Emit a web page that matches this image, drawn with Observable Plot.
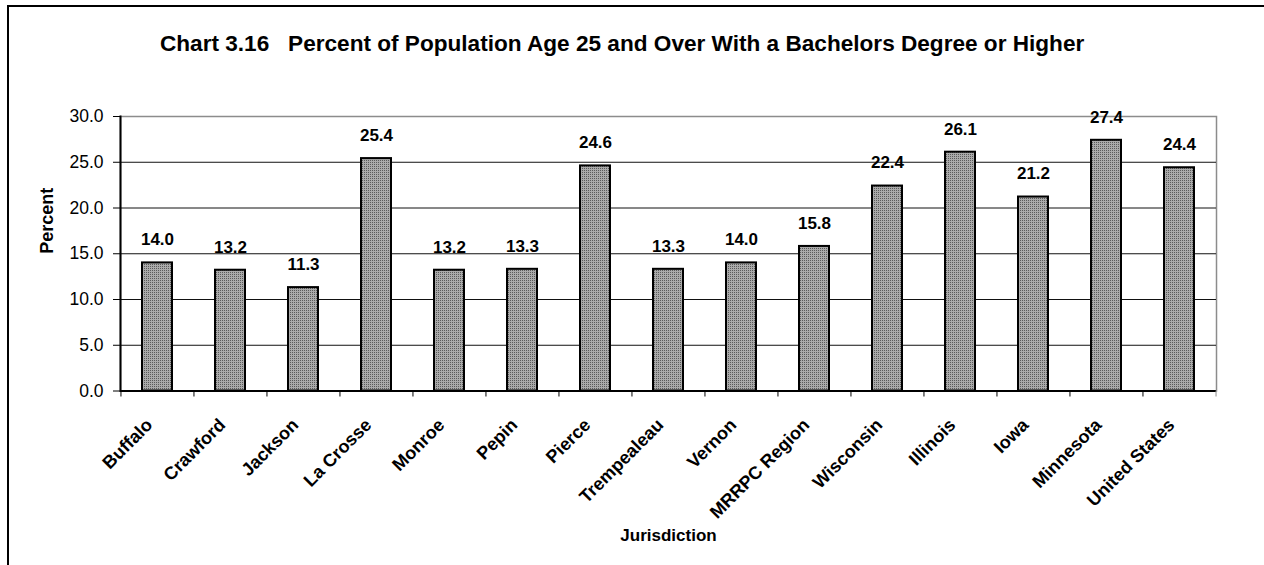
<!DOCTYPE html>
<html>
<head>
<meta charset="utf-8">
<script src="https://cdn.jsdelivr.net/npm/d3@7"></script>
<script src="https://cdn.jsdelivr.net/npm/@observablehq/plot@0.6"></script>
<style>
  body { margin: 0; background: #fff; font-family: "Liberation Sans", Arial, sans-serif; }
  #frame { position: absolute; left: 7px; top: 5px; width: 1400px; height: 700px; border-left: 2px solid #000; border-top: 2px solid #000; }
  #title { position: absolute; left: 160px; top: 31px; font: bold 22.6px "Liberation Sans", Arial, sans-serif; white-space: pre; color: #000; }
  #chart { position: absolute; left: 0; top: 100px; }
</style>
</head>
<body>
<div id="frame"></div>
<div id="title">Chart 3.16   Percent of Population Age 25 and Over With a Bachelors Degree or Higher</div>
<div id="chart"></div>
<script>
const categories = ["Buffalo", "Crawford", "Jackson", "La Crosse", "Monroe", "Pepin", "Pierce", "Trempealeau", "Vernon", "MRRPC Region", "Wisconsin", "Illinois", "Iowa", "Minnesota", "United States"];
const values = [14.0, 13.2, 11.3, 25.4, 13.2, 13.3, 24.6, 13.3, 14.0, 15.8, 22.4, 26.1, 21.2, 27.4, 24.4];
const yTicks = [0, 5, 10, 15, 20, 25, 30];
const gridTicks = [5, 10, 15, 20, 25];
const xLabel = "Jurisdiction";
const yLabel = "Percent";

const data = categories.map((c, i) => ({category: c, value: values[i]}));

const width = 1264, height = 465;
const marginLeft = 120, marginRight = 48, marginTop = 16, marginBottom = 174.5;
const step = (width - marginLeft - marginRight) / categories.length;

const svg = Plot.plot({
  width, height, marginLeft, marginRight, marginTop, marginBottom,
  style: {fontFamily: "'Liberation Sans', Arial, sans-serif", color: "#000", background: "transparent"},
  x: {domain: categories, paddingInner: 0.59, paddingOuter: 0.295, label: null},
  y: {domain: [0, 30], label: null},
  marks: [
    Plot.frame({stroke: "#8c8c8c", strokeWidth: 1.5}),
    Plot.ruleY(gridTicks, {stroke: "#111", strokeWidth: 1}),
    Plot.barY(data, {x: "category", y: "value", fill: "url(#stipple)", stroke: "#000", strokeWidth: 2}),
    Plot.text(data, {x: "category", y: "value", text: d => d.value.toFixed(1), dy: -23, fontWeight: "bold", fontSize: 17, fill: "#000"}),
    Plot.ruleY([0], {stroke: "#000", strokeWidth: 2}),
    Plot.frame({anchor: "left", stroke: "#000", strokeWidth: 2}),
    Plot.axisY({ticks: yTicks, tickFormat: d => d.toFixed(1), tickSize: 7, tickPadding: 10, fontSize: 17.5, label: null, stroke: "#000"}),
    Plot.axisX({tickSize: 6, tickFormat: () => "", dx: -step / 2, label: null, stroke: "#000"}),
    Plot.axisX({ticks: [categories[categories.length - 1]], tickSize: 6, tickFormat: () => "", dx: step / 2, label: null, stroke: "#8c8c8c"}),
    Plot.axisX({tickSize: 0, tickRotate: -45, tickPadding: 31, dx: -8, fontSize: 18, fontWeight: "bold", label: null}),
    Plot.text([xLabel], {frameAnchor: "bottom", dy: 150, fontWeight: "bold", fontSize: 17, fill: "#000"}),
    Plot.text([yLabel], {frameAnchor: "left", dx: -73, rotate: -90, fontWeight: "bold", fontSize: 18, fill: "#000"})
  ]
});

const defs = d3.select(svg).insert("defs", ":first-child");
const pat = defs.append("pattern").attr("id", "stipple").attr("width", 2).attr("height", 2).attr("patternUnits", "userSpaceOnUse");
pat.append("rect").attr("width", 2).attr("height", 2).attr("fill", "#aaaaaa");
pat.append("rect").attr("width", 1).attr("height", 1).attr("fill", "#5a5a5a");

document.getElementById("chart").appendChild(svg);
</script>
</body>
</html>
